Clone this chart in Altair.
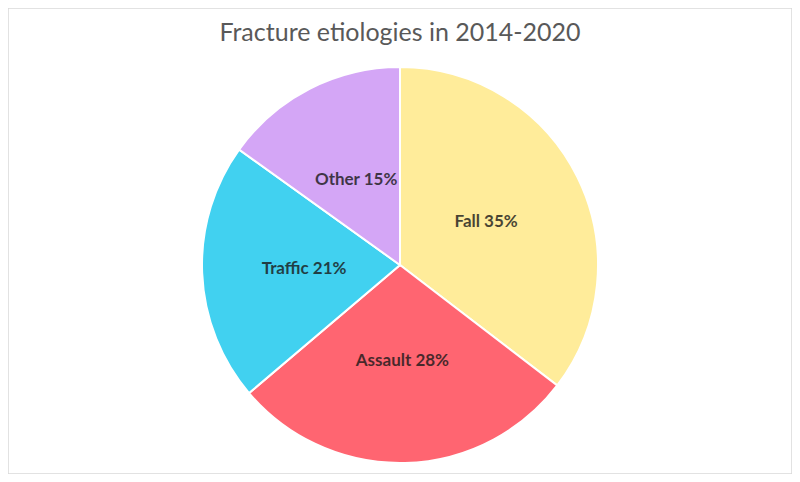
import altair as alt
import pandas as pd

categories = ["Fall", "Assault", "Traffic", "Other"]
values = [35.4, 28.4, 21.1, 15.1]
colors = ["#FFEC9A", "#FF6571", "#41D1F0", "#D4A6F6"]
title_text = "Fracture etiologies in 2014-2020"

total = sum(values)
df = pd.DataFrame({
    "cat": categories,
    "value": values,
    "idx": list(range(len(categories))),
    "label": [f"{c} {round(v / total * 100)}%" for c, v in zip(categories, values)],
})

W, H = 784, 466
CX, CY, R = 392, 257, 198

base = alt.Chart(df).encode(
    theta=alt.Theta("value:Q", stack=True),
    order=alt.Order("idx:Q"),
    x=alt.value(CX),
    y=alt.value(CY),
)

arcs = base.mark_arc(outerRadius=R, stroke="white", strokeWidth=2).encode(
    color=alt.Color("cat:N", scale=alt.Scale(domain=categories, range=colors), legend=None)
)

labels = base.mark_text(radius=96, font="Lato", fontSize=17, fontWeight="bold",
                        color="#1a1a1a", opacity=0.8).encode(text="label:N")

title = alt.Chart(pd.DataFrame({"t": [title_text]})).mark_text(
    font="Lato", fontSize=25, color="#595959", align="center", baseline="middle"
).encode(text="t:N", x=alt.value(CX), y=alt.value(25))

chart = alt.layer(arcs, labels, title).properties(
    width=W, height=H, padding=0, autosize=alt.AutoSizeParams(type="none")
).configure_view(stroke="#D9D9D9", strokeWidth=1.5)

chart.save("out.html", embed_options={"renderer": "svg", "actions": False})
